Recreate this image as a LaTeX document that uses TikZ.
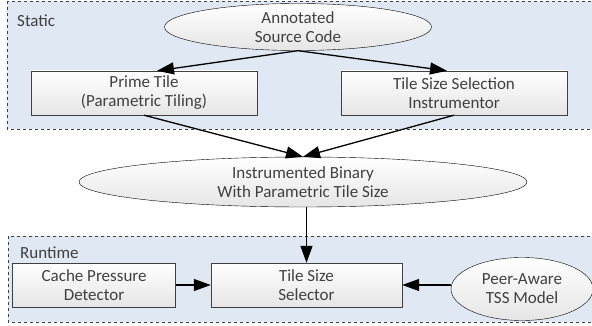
\documentclass[tikz,border=0pt]{standalone}
\usepackage{fontspec}
\setmainfont{Carlito}
\usetikzlibrary{arrows.meta,shapes,positioning,backgrounds}
\definecolor{zoneblue}{RGB}{223,232,243}
\definecolor{inkgray}{RGB}{64,64,64}
\tikzset{
  zone/.style   = {draw=inkgray, dashed, fill=zoneblue, line width=0.8pt},
  zonelabel/.style = {anchor=west, inner sep=0pt, text=inkgray},
  block/.style  = {draw=inkgray, thin, align=center, text=inkgray,
                   top color=white, bottom color=black!10,
                   minimum height=44pt, inner sep=2pt},
  blob/.style   = {ellipse, draw=black, thin, align=center, text=inkgray,
                   top color=white, bottom color=black!10, inner sep=0pt},
  flow/.style   = {-{Triangle[length=17pt,width=12pt]}, black, line width=1.3pt},
}

\begin{document}
\begin{tikzpicture}[x=1pt,y=-1pt,font=\fontsize{17}{19}\selectfont]
      \useasboundingbox (0,0) rectangle (592,326);
      %the two dashed regions first, they sit behind everything
      \draw[zone] (7,1) rectangle (600,129);
      \draw[zone] (8,236) rectangle (600,322);
      \node[zonelabel] (static) at (17,21) {Static};
      \node[zonelabel] (runtime) at (20,253) {Runtime};

      \node[blob, minimum width=267pt, minimum height=47pt] (source) at (298,27) {Annotated\\ Source Code};
      \node[block, minimum width=226pt] (prime) at (144,93) {Prime Tile\\ (Parametric Tiling)};
      \node[block, minimum width=226pt] (instr) at (454,93) {Tile Size Selection\\ Instrumentor};

      \node[blob, minimum width=448pt, minimum height=50pt] (binary) at (303,182) {Instrumented Binary\\ With Parametric Tile Size};

      \node[block, minimum width=191pt] (selector) at (306.5,285) {Tile Size\\ Selector};
      \node[block, minimum width=163pt, left=35pt of selector] (cache) {Cache Pressure\\ Detector};
      \node[blob, minimum width=142pt, minimum height=63pt] (peer) at (522,289) {Peer-Aware\\ TSS Model};

      \draw[flow] (source.south) -- ([xshift=13pt]prime.north);
      \draw[flow] (source.south) -- ([xshift=-7pt]instr.north);
      \draw[flow] (prime.south) -- (binary.north);
      \draw[flow] (instr.south) -- (binary.north);
      \draw[flow] (binary.south -| selector.north) -- (selector.north);
      \draw[flow] (cache.east) -- (selector.west);
      \draw[flow] (peer.west |- selector.east) -- (selector.east);

  \end{tikzpicture}
\end{document}
